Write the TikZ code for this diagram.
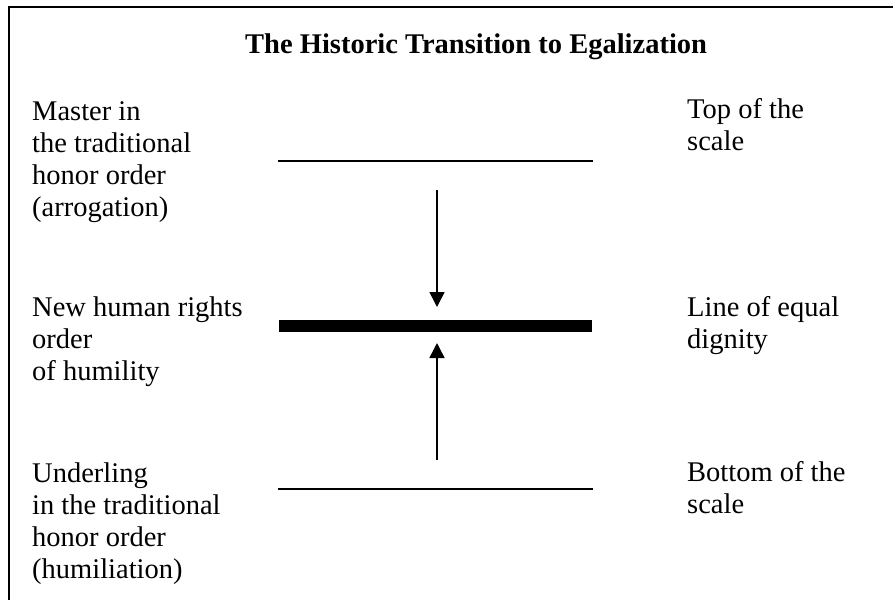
\documentclass[tikz,border=0pt]{standalone}
\usepackage{fontspec}
\setmainfont{Liberation Serif}
\usetikzlibrary{arrows.meta}
\tikzset{
  lbl/.style={anchor=base west, inner sep=0pt, font=\fontsize{28.5}{32}\selectfont},
  thinbar/.style={line width=2pt},
  thickbar/.style={line width=12pt},
  arr/.style={line width=1.5pt, -{Triangle[width=15pt,length=15pt]}},
  frame/.style={line width=2pt}
}
\begin{document}
\begin{tikzpicture}[x=1pt,y=-1pt]
\useasboundingbox (0,0) rectangle (893,600);
% frame (left and top edges only)
\coordinate (fb) at (9,600);
\coordinate (fc) at (9,7);
\coordinate (fr) at (893,7);
\draw[frame] (fb) -- (fc) -- (fr);
% title
\node[lbl, font=\fontsize{28.5}{32}\selectfont\bfseries] (title) at (245,53) {The Historic Transition to Egalization};
% left labels
\node[lbl] (master) at (32,120) {\begin{tabular}[t]{@{}l@{}}Master in\\the traditional\\honor order\\(arrogation)\end{tabular}};
\node[lbl] (newhr) at (32,316) {\begin{tabular}[t]{@{}l@{}}New human rights\\order\\of humility\end{tabular}};
\node[lbl] (under) at (32,482) {\begin{tabular}[t]{@{}l@{}}Underling\\in the traditional\\honor order\\(humiliation)\end{tabular}};
% right labels
\node[lbl] (top) at (687,118) {\begin{tabular}[t]{@{}l@{}}Top of the\\scale\end{tabular}};
\node[lbl] (equal) at (687,316) {\begin{tabular}[t]{@{}l@{}}Line of equal\\dignity\end{tabular}};
\node[lbl] (bottom) at (687,481) {\begin{tabular}[t]{@{}l@{}}Bottom of the\\scale\end{tabular}};
% bars
\coordinate (t1) at (278,161); \coordinate (t2) at (593,161);
\coordinate (m1) at (279,326); \coordinate (m2) at (592,326);
\coordinate (b1) at (278,489); \coordinate (b2) at (593,489);
\draw[thinbar] (t1) -- (t2);
\draw[thickbar] (m1) -- (m2);
\draw[thinbar] (b1) -- (b2);
% arrows
\coordinate (a1s) at (437,190); \coordinate (a1e) at (437,307);
\coordinate (a2s) at (437,460); \coordinate (a2e) at (437,343);
\draw[arr] (a1s) -- (a1e);
\draw[arr] (a2s) -- (a2e);
\end{tikzpicture}
\end{document}
